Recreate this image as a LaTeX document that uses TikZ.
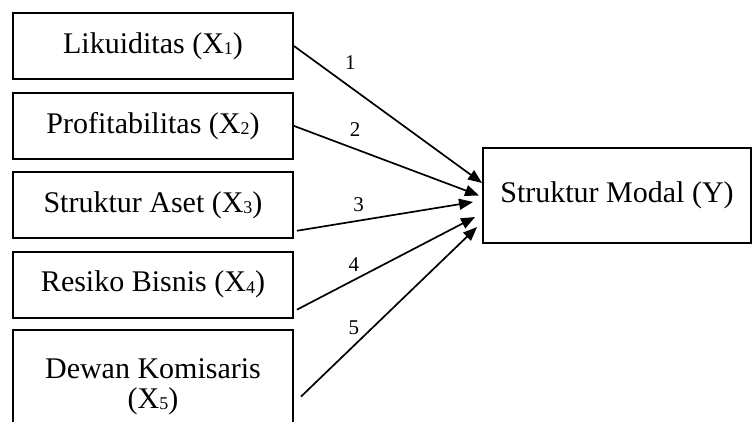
\documentclass[tikz,border=0pt]{standalone}
\usepackage{fontspec}
\setmainfont{Liberation Serif}
\usetikzlibrary{arrows.meta,positioning}

\newcommand{\idx}[1]{\raisebox{-1.5pt}{\fontsize{18}{18}\selectfont #1}}

\begin{document}
\begin{tikzpicture}[
  x=1pt, y=-1pt,
  node distance=12pt,
  box/.style={draw, line width=1.9pt, minimum width=280pt, minimum height=66pt, align=center, inner sep=2pt, font=\fontsize{30}{30}\selectfont},
  lbl/.style={inner sep=0pt, font=\fontsize{21}{22}\selectfont},
  arr/.style={-{Triangle[length=14pt,width=11pt]}, line width=1.7pt},
]
\clip (0,0) rectangle (754,421);
\node[box] (x1) at (153,46) {Likuiditas (X\idx{1})};
\node[box, below=12pt of x1] (x2) {Profitabilitas (X\idx{2})};
\node[box, below=11pt of x2] (x3) {Struktur Aset (X\idx{3})};
\node[box, below=12pt of x3] (x4) {Resiko Bisnis (X\idx{4})};
\node[box, below=10pt of x4, minimum height=114pt] (x5) {Dewan Komisaris\\(X\idx{5})};
\node[box, minimum width=268pt, minimum height=95pt] (y) at (617,195.5) {Struktur Modal (Y)};
\draw[arr] (x1.east) -- node[lbl, pos=.3, above=17pt] {1} ([yshift=12.5pt]y.west);
\draw[arr] (x2.east) -- node[lbl, pos=.33, above=12pt] {2} ([xshift=-3pt]y.west);
\draw[arr] ([xshift=3pt,yshift=8pt]x3.south east) -- node[lbl, pos=.35, above=8pt] {3} ([xshift=-9pt,yshift=-6.5pt]y.west);
\draw[arr] ([xshift=3pt,yshift=9pt]x4.south east) -- node[lbl, pos=.32, above=8pt] {4} ([xshift=-7pt,yshift=-21.5pt]y.west);
\draw[arr] ([xshift=7pt,yshift=-68pt]x5.north east) -- node[lbl, pos=.3, above=10pt] {5} ([xshift=-5pt,yshift=-31.5pt]y.west);
\end{tikzpicture}
\end{document}
